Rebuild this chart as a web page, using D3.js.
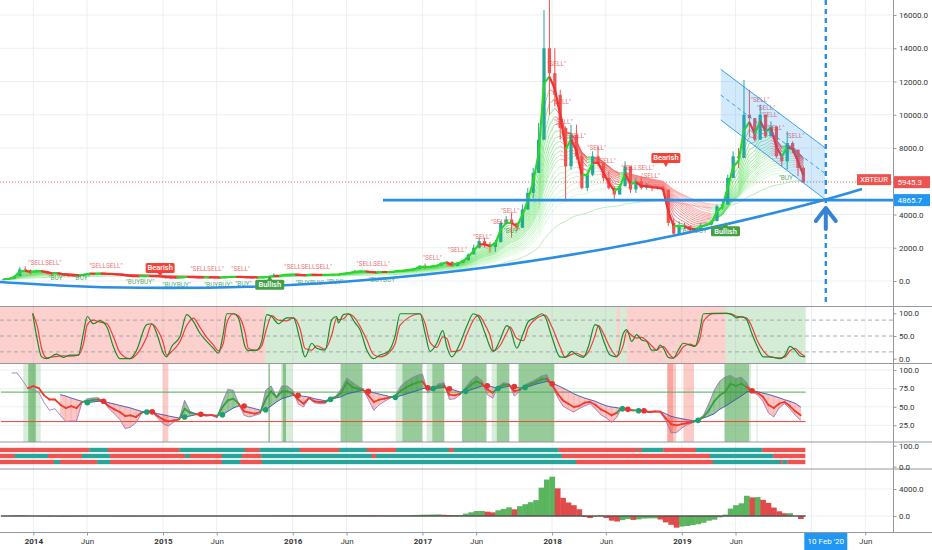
<!DOCTYPE html>
<html><head><meta charset="utf-8">
<script src="https://cdn.jsdelivr.net/npm/d3@7/dist/d3.min.js"></script>
<style>
html,body{margin:0;padding:0;background:#fff;overflow:hidden}
svg{display:block;font-family:Roboto,"Liberation Sans",Arial,sans-serif}
</style></head><body>
<svg id="chart" width="932" height="550"></svg>
<script>
// ================= DATA =================
// semi-monthly bars starting Oct 1 2013 (decimal years)
const START_T = 2013.75, STEP_T = 1/24;
const closes = [105,150,300,700,650,520,
 620,600,500,420,470,360,330,330,330,420,480,440,460,430,430,370,360,300,280,280,300,300,290,260,
 220,200,200,225,250,225,215,210,215,210,205,230,265,260,250,205,210,210,225,270,340,310,390,390,
 400,350,355,395,370,370,375,400,405,470,520,580,590,590,520,515,550,540,565,630,640,690,730,920,
 850,870,930,1100,1150,900,1100,1250,1600,2000,2400,2200,2050,2350,3500,3700,3500,3200,4300,5300,6500,8500,14000,12500,
 11200,9200,6900,8800,7500,5600,6400,7500,7100,6200,5600,5200,5700,6900,5500,6000,5600,5700,5600,5600,5500,3500,2850,3300,
 3300,3050,3100,3350,3400,3600,4500,4600,6200,7500,7400,10000,9800,8500,10000,8700,9300,7500,7200,8300,7900,6800,5945.3];
const highs = [110,160,320,850,880,700,
 680,650,610,500,500,480,370,370,340,440,500,490,470,470,440,440,380,360,320,300,350,320,300,300,
 270,230,210,240,270,260,240,220,220,220,215,240,280,280,265,255,215,215,230,300,460,340,420,420,
 420,400,360,400,390,380,380,410,410,480,540,680,620,610,560,530,560,560,575,650,680,700,740,930,
 1060,900,950,1120,1200,1180,1120,1280,1650,2200,2600,2600,2350,2450,3600,3900,4100,3400,4600,5600,6800,9500,16300,16900,
 14000,11500,9300,9400,9400,7700,6600,7800,8100,7100,6600,5700,5800,7200,6900,6200,6300,5900,5700,5700,5700,5500,3800,3600,
 3500,3300,3200,3500,3500,3650,4600,4900,6400,7800,8000,12100,11500,9800,10600,9800,9600,9200,7500,9000,8400,7800,6900];
const lows = [90,100,150,290,520,380,
 520,560,420,320,400,340,260,300,310,320,410,420,430,420,380,340,340,280,260,260,260,280,250,250,
 150,160,190,190,240,220,200,200,205,205,195,200,230,250,200,180,200,200,210,225,270,280,330,360,
 360,340,330,350,360,360,365,370,390,400,460,500,570,570,480,500,510,520,540,560,620,640,690,720,
 720,800,880,930,1050,850,950,1100,1250,1600,1950,2000,1700,1750,2300,3400,2600,3000,3200,4300,5000,6500,8500,10000,
 10500,8500,4800,6700,7300,5500,5400,6300,6900,6000,5500,4900,5200,5700,5300,5300,5500,5500,5400,5500,5400,3300,2700,2800,
 3100,2950,2950,3100,3300,3350,3600,4300,4700,6200,6800,7400,8700,8400,8500,8600,8700,7400,6900,6700,7700,6300,5900];
const firstOpen = 100;

// EMA ribbon periods (in bars)
const ribbonPeriods = [2,3,4,5,6,7,8,9,10,11,12,13,14,16,18,20,22,25,28,32];
const longPeriod = 50;

// momentum histogram (same bar grid)
const histValues = [0,20,60,120,80,30,
 10,-20,-40,-60,-50,-70,-80,-70,-60,-40,-20,-10,0,-10,-20,-30,-40,-50,-55,-50,-40,-35,-30,-30,
 -35,-30,-25,-20,-15,-15,-12,-10,-10,-8,-5,0,5,8,6,2,0,-2,0,10,30,40,50,55,
 55,50,40,35,30,28,25,28,35,50,70,90,100,95,80,70,65,60,62,70,80,95,120,160,
 190,200,220,240,180,150,130,
 150,350,550,740,750,640,540,850,1050,1280,990,1450,1750,2050,2350,4200,5400,5830,4100,2700,2000,1600,1000,
 -150,-300,-50,100,-300,-690,-820,-620,-450,-580,-500,-380,-350,-340,-520,-950,-1300,-1730,-1560,-1480,-1350,-1220,-1000,-700,-550,-200,
 200,1100,1600,1880,3000,2750,2800,2400,1950,1250,700,400,420,0,-450];

// RSI panel (same grid): fast (purple), slow trail (blue), mid (thick)
const rsiFast = [null,null,96,96,86,75,73,70,55.6,45.3,47.5,38.5,30.3,30.8,30.8,55.6,61.1,62,62.4,57,47.5,40.7,33,20.4,22.6,28.5,40.7,45.3,43,34.9,27.2,24,29.4,33,58.8,43.9,40.7,38.5,37.6,38.5,34.9,56.6,73.7,72.4,54.3,38.5,36.2,38.5,40.7,72.4,78.3,63.3,78.3,78.3,72.4,54.3,49.8,61.9,55.6,54.3,54.3,61.9,64.7,74.6,89.1,83.6,78.3,74.6,60.1,45.3,52.9,57.5,61.9,65.6,78.3,84.6,89.1,92.7,94.5,69.2,75.5,81.4,82.7,60.1,61.1,66.5,76.9,85.9,91.8,85.9,66.5,61.9,77.5,82.7,81.4,64.7,71,80.1,83.6,87.3,91.8,93.6,78.3,63.3,51.1,46.6,43,47.5,51.1,54.3,47.5,39.3,35,29.4,36.2,51.1,45.3,45,45.5,44.5,42.1,43.5,43,31.7,15,15,21.3,25.8,28.5,33,38.5,54.3,72.4,84.6,90.4,92.7,88.2,90.4,82.7,70,66.5,57.5,42.1,36.2,48.4,54.3,47.5,38.5,31.7];
const rsiSlow = [null,null,null,null,null,null,null,null,null,null,null,66.5,64.7,62,59.7,57.5,55.6,56.6,57.5,57.5,55.6,53.8,52,50.2,48.4,46.1,43.9,43,43.2,40.7,39.3,37.6,36.2,34.9,36.2,37.6,39.3,39.8,39.3,38.9,38.5,39.3,43.9,48.4,51.1,51.1,49.3,47.5,45.3,46.1,51.1,56.6,61.1,63.3,65.6,65.6,64.3,63.3,61.1,59.7,58.3,60.1,62,63.8,67.4,69.2,71,72.4,71,69.2,67.4,65.6,63.8,62.9,65.1,67.4,69.7,71.9,74.6,76,75,75.5,76.4,74.6,72.4,70.1,71,73.3,75.5,78.3,78.7,77,75,76.4,78.3,77.7,75.5,76.4,78.3,80.8,82.7,84.6,81.4,79.2,75.5,71.9,67.8,64.7,62,59.7,57.5,54.3,51.5,49.8,48.8,47.5,46.6,45.3,44.8,44.8,43.9,43.9,43.9,40.7,37.1,35.3,33.9,32.6,31.2,31.7,34.9,37.5,40.7,46.6,50.7,55.3,60.1,64.7,70.1,71.9,70.5,68.7,66.9,64.7,62.4,59.7,57.5,54.7,49.7];
const rsiMid = [null,null,null,null,null,75.5,78,75.5,65.6,60,60,53,48.4,51,48.4,56.6,58,59.3,59.8,57.3,50.7,46.6,43,37.6,38.5,36.2,42.1,43.9,43,37.6,33,30.3,31.7,33,47.5,42.1,40.3,39.3,38.5,38.7,37,49.8,58.8,61.1,54.3,43.9,42.1,40.7,43,60.2,71.1,63.3,71.1,71.1,67.9,60.2,54.3,62,57.5,56.6,56.6,61,63.3,69.2,83.6,76.9,74.6,73.5,65.6,56.6,59.7,61.1,62.9,64.7,72,76.4,80.1,82.8,84.6,73.7,74.6,78.3,79.2,66.5,65.6,67.9,73.7,80.1,84.6,81.4,73.7,69.2,76,80.1,80.1,71,73.2,78.3,81,83.6,87.3,88.2,80.1,67.9,58.8,54.3,49.8,51.1,55.6,56.6,52.9,46.6,43,38.5,42.1,49.8,45.5,45.1,45.2,44.6,43,43.7,43.5,34.9,26.7,24.9,26.7,28,29.4,31.7,36.2,45.3,57.5,65.6,70.1,81.4,78.3,81.4,76.9,71,69.2,63.8,52.9,48.4,54.3,56.6,51.1,43.9,38.5];
const rsiUpper = 70, rsiLower = 30;
const dataEndT = 2019.955;

// RSI panel background bands [t0, t1, kind]
const rsiBands = [[2013.923,2014.057,'lg'],[2013.961,2014.019,'dg'],[2014.998,2015.041,'pk'],
 [2015.812,2015.825,'dg'],[2015.91,2016.0,'lg'],[2015.923,2015.948,'dg'],[2016.369,2016.538,'dg'],
 [2016.794,2016.845,'lg'],[2016.845,2016.999,'dg'],[2017.033,2017.076,'lg'],[2017.076,2017.169,'dg'],
 [2017.305,2017.494,'dg'],[2017.534,2017.573,'lg'],[2017.573,2017.67,'dg'],[2017.741,2018.017,'dg'],
 [2018.888,2018.955,'pk'],[2018.888,2018.932,'pk'],[2019.012,2019.094,'pk'],
 [2019.329,2019.518,'dg'],[2019.518,2019.533,'lg'],[2019.576,2019.584,'lg']];

// Stochastic %K readings [decimal year, value]
const stochT = [2013.995,2014.031,2014.064,2014.103,2014.18,2014.231,2014.283,2014.347,2014.386,2014.416,2014.463,2014.514,2014.566,2014.617,2014.668,2014.746,2014.797,2014.874,2014.913,2014.951,2015.003,2015.028,2015.067,2015.131,2015.183,2015.234,2015.285,2015.337,2015.388,2015.427,2015.465,2015.491,2015.542,2015.581,2015.632,2015.658,2015.722,2015.761,2015.8,2015.838,2015.889,2015.954,2016.005,2016.057,2016.095,2016.147,2016.185,2016.249,2016.301,2016.339,2016.352,2016.391,2016.429,2016.481,2016.519,2016.571,2016.622,2016.674,2016.738,2016.789,2016.828,2016.982,2017.021,2017.059,2017.111,2017.157,2017.188,2017.226,2017.29,2017.341,2017.393,2017.431,2017.483,2017.534,2017.547,2017.598,2017.65,2017.675,2017.727,2017.778,2017.817,2017.868,2017.92,2017.945,2017.997,2018.061,2018.1,2018.151,2018.19,2018.241,2018.28,2018.331,2018.357,2018.395,2018.447,2018.498,2018.549,2018.575,2018.614,2018.652,2018.691,2018.729,2018.768,2018.806,2018.832,2018.858,2018.896,2018.935,2018.973,2019.012,2019.063,2019.102,2019.14,2019.166,2019.243,2019.346,2019.385,2019.423,2019.462,2019.5,2019.539,2019.577,2019.629,2019.68,2019.757,2019.796,2019.834,2019.873,2019.911,2019.95];
const stochK = [100,41,4,0,10,3,8,8,56,93,77,84,71,27,0,0,19,75,77,56,12,4,27,49,97,82,56,38,23,12,56,99,99,90,27,18,19,38,97,93,77,90,90,41,4,34,23,19,86,93,79,97,99,79,64,19,0,8,16,49,99,99,56,16,34,62,27,4,34,71,99,93,56,19,16,41,73,67,23,56,82,90,99,93,49,4,3,16,8,3,27,75,71,41,8,4,56,64,38,53,41,38,19,19,30,23,3,1,19,34,30,27,64,99,100,100,97,90,93,86,56,30,4,4,0,8,27,19,6,4];
const stochLevels = [85,50,15];
// stoch background regime [t0,t1,state]
const stochBg = [[2013.743,2015.788,'bear'],[2015.788,2018.498,'bull'],[2018.498,2018.524,'bear'],[2018.524,2018.575,'bull'],[2018.575,2019.338,'bear'],[2019.338,2019.955,'bull']];

// trend rows (boundaries + states R=bear,T=bull)
const row1Breaks = [2013.743,2014.432,2014.574,2015.126,2015.632,2015.742,2016.054,2016.357,2016.571,2016.796,2017.205,2017.241,2018.048,2018.645,2018.655,2018.691,2018.857,2019.107,2019.621,2019.95];
const row1States = "RTRTRTRTRTRTRTRTRTR";
const row2Breaks = [2013.743,2013.857,2014.113,2014.375,2014.592,2015.17,2015.206,2015.455,2015.609,2015.758,2016.611,2016.642,2018.074,2019.217,2019.705,2019.95];
const row2States = "RTRTRTRTRTRTRTR";
const row3Breaks = [2013.743,2014.16,2014.206,2014.493,2014.591,2015.453,2015.594,2015.761,2018.184,2019.238,2019.757,2019.775,2019.813,2019.95];
const row3States = "RTRTRTRTRTRTR";

// drawing annotations
const supportCurveT = [2013.743,2014.244,2014.83,2015.659,2016.419,2016.989,2017.656,2018.416,2019.017,2019.684,2020.173,2020.389];
const supportCurveP = [-60,-283,-409,-343,-30,361,992,1937,2851,4048,5040,5534];
const supportLevel = 4865.7, supportStartT = 2016.696;
const channelT = [2019.30, 2020.104];
const channelTopP = [12734, 8018], channelMidP = [11188, 6466], channelBotP = [9684, 4914];
const crosshairT = 2020.11, crosshairLabel = "10 Feb '20";
const arrowFromP = 3128, arrowToP = 4391, arrowHeadP = 3609, arrowHalfT = 0.077;
const symbol = "XBTEUR";

const sellT = [2014.09,2014.56,2015.34,2015.599,2016.12,2016.62,2017.077,2017.27,2017.462,2017.60,2017.676,2018.035,2018.074,2018.086,2018.19,2018.344,2018.42,2018.66,2018.76,2019.603,2019.649,2019.68,2019.719,2019.873];
const sellP = [1080,900,722,722,824,990,1383,1865,2646,3549,4192,13053,10725,9522,8722,7982,7176,6800,6300,10887,10388,9985,9185,8680];
const sellText = ['"SELLSELL"','"SELLSELL"','"SELLSELL"','"SELL"','"SELLSELLSELL"','"SELLSELL"','"SELL"','"SELL"','"SELL"','"SELL"','"SELL"','"SELL"','"SELL"','"SELL"','"SELL"','"SELL"','"SELL"','"SELLSELL"','"SELL"','"SELL"','"SELL"','"SELL"','"SELL"','"SELL"'];
const buyT = [2014.18,2014.373,2014.823,2015.106,2015.426,2015.62,2016.133,2016.326,2016.696,2017.69,2019.1,2019.81];
const buyP = [162,180,-102,-240,-240,-210,-120,-60,30,3000,2965,6196];
const buyText = ['"BUY"','"BUY"','"BUYBUY"','"BUYBUY"','"BUYBUY"','"BUY"','"BUYBUY"','"BUY"','"BUYBUY"','"BUY"','"BUYBUY"','"BUY"'];
const tagT = [2014.978, 2018.877, 2015.823, 2019.337];
const tagP = [782, 7400, -220, 2990];
const tagText = ["Bearish","Bearish","Bullish","Bullish"];

const mainTicks = [0,2000,4000,6000,8000,10000,12000,14000,16000];
const stochTicks = [0,50,100];
const rsiTicks = [25,50,75,100];
const barsTicks = [0,100];
const histTicks = [0,4000];
const xTickT = [2014,2014.414,2015,2015.414,2016,2016.415,2017,2017.414,2018,2018.414,2019,2019.414,2020,2020.414];
const xTickLabels = ["2014","Jun","2015","Jun","2016","Jun","2017","Jun","2018","Jun","2019","Jun","","Jun"];

// ================= CHART =================
const UP = '#26a69a', DN = '#ef5350', BLUE = '#2196f3';
const svg = d3.select('#chart');
const PLOT_R = 893;
const x = d3.scaleLinear().domain([2014, 2020.11]).range([33.3, 825.8]);
const panels = {main:[0,306], stoch:[306.5,363.5], rsi:[363.5,442], bars:[442,469], hist:[469,532]};
const yMain = d3.scaleLinear().domain([0,16000]).range([281,15]);
const yStoch = d3.scaleLinear().domain([0,100]).range([358.7,313.3]);
const yRsi = d3.scaleLinear().domain([0,100]).range([443.7,370]);
const yBars = d3.scaleLinear().domain([0,100]).range([466.7,445.7]);
const yHist = d3.scaleLinear().domain([0,4000]).range([516,489]);

const defs = svg.append('defs');
const G = {};
Object.entries(panels).forEach(([k,[a,b]])=>{
  defs.append('clipPath').attr('id','clip-'+k).append('rect').attr('x',0).attr('y',a).attr('width',PLOT_R).attr('height',b-a);
  G[k] = svg.append('g').attr('clip-path',`url(#clip-${k})`);
});
const tS = i => START_T + i*STEP_T;
const tM = i => START_T + (i+0.5)*STEP_T;
const N = closes.length;

// grid
const GRID = '#eceff3';
Object.entries(panels).forEach(([k,[a,b]])=>{
  G[k].selectAll('.vg').data(xTickT).join('line').attr('x1',d=>x(d)).attr('x2',d=>x(d)).attr('y1',a).attr('y2',b).attr('stroke',GRID);
});
G.main.selectAll('.hg').data(mainTicks).join('line').attr('x1',0).attr('x2',PLOT_R).attr('y1',d=>yMain(d)).attr('y2',d=>yMain(d)).attr('stroke',GRID);
G.rsi.selectAll('.hg').data(rsiTicks).join('line').attr('x1',0).attr('x2',PLOT_R).attr('y1',d=>yRsi(d)).attr('y2',d=>yRsi(d)).attr('stroke',GRID);
G.hist.selectAll('.hg').data(histTicks).join('line').attr('x1',0).attr('x2',PLOT_R).attr('y1',d=>yHist(d)).attr('y2',d=>yHist(d)).attr('stroke',GRID);

// ---------- MAIN ----------
const lastPrice = closes[N-1];
G.main.append('line').attr('x1',0).attr('x2',PLOT_R).attr('y1',yMain(lastPrice)).attr('y2',yMain(lastPrice))
  .attr('stroke',DN).attr('stroke-width',0.8).attr('stroke-dasharray','1,2');

function ema(src,p){const a=2/(p+1);let e=src[0];return src.map((v,i)=>(e = i? a*v+(1-a)*e : v));}
function drawTrend(g, vals, cUp, cDn, w, op){
  const segs=[]; let cur=null, run=[];
  for(let i=1;i<vals.length;i++){
    const c = vals[i]>=vals[i-1]?cUp:cDn;
    if(c===cur){run.push(i);} else { if(cur) segs.push([cur,run]); cur=c; run=[i-1,i]; }
  }
  segs.push([cur,run]);
  const ln = d3.line().x(i=>x(tM(i))).y(i=>yMain(vals[i]));
  g.selectAll(null).data(segs).join('path').attr('d',d=>ln(d[1])).attr('fill','none')
   .attr('stroke',d=>d[0]).attr('stroke-width',w).attr('stroke-linejoin','round').attr('opacity',op||1);
}
const ribG = G.main.append('g');
drawTrend(ribG, ema(closes,longPeriod), '#a8e8a8', '#f6a5a5', 0.8);
const gInt = d3.interpolateRgb('#3ad83a','#c9f6c9'), rInt = d3.interpolateRgb('#f03030','#fcc4c4');
for(let k=ribbonPeriods.length-1;k>=1;k--){
  const f = k/(ribbonPeriods.length-1);
  drawTrend(ribG, ema(closes,ribbonPeriods[k]), gInt(f), rInt(f), 0.7, 0.9);
}
// candles
const opens = closes.map((c,i)=> i===0 ? firstOpen : closes[i-1]);
const bw = (x(STEP_T)-x(0))*0.6;
const cg = G.main.append('g');
cg.selectAll('line').data(d3.range(N)).join('line')
  .attr('x1',i=>x(tM(i))).attr('x2',i=>x(tM(i)))
  .attr('y1',i=>yMain(Math.max(highs[i],opens[i],closes[i]))).attr('y2',i=>yMain(Math.min(lows[i],opens[i],closes[i])))
  .attr('stroke',i=>closes[i]>=opens[i]?UP:DN).attr('stroke-width',1);
cg.selectAll('rect').data(d3.range(N)).join('rect')
  .attr('x',i=>x(tM(i))-bw/2).attr('width',bw)
  .attr('y',i=>yMain(Math.max(opens[i],closes[i])))
  .attr('height',i=>Math.max(1,Math.abs(yMain(opens[i])-yMain(closes[i]))))
  .attr('fill',i=>closes[i]>=opens[i]?UP:DN);
drawTrend(G.main.append('g'), ema(closes,ribbonPeriods[0]), '#2bd62b', '#f23030', 2.2);

// labels SELL/BUY
G.main.append('g').selectAll('text').data(sellT).join('text')
  .attr('x',d=>x(d)).attr('y',(d,i)=>yMain(sellP[i])).attr('text-anchor','middle').attr('dominant-baseline','middle')
  .attr('font-size',6.5).attr('fill','rgba(229,57,53,0.72)').text((d,i)=>sellText[i]);
G.main.append('g').selectAll('text').data(buyT).join('text')
  .attr('x',d=>x(d)).attr('y',(d,i)=>yMain(buyP[i])).attr('text-anchor','middle').attr('dominant-baseline','middle')
  .attr('font-size',6.5).attr('fill','rgba(46,150,60,0.8)').text((d,i)=>buyText[i]);

// channel
const chPoly = [[x(channelT[0]),yMain(channelTopP[0])],[x(channelT[1]),yMain(channelTopP[1])],[x(channelT[1]),yMain(channelBotP[1])],[x(channelT[0]),yMain(channelBotP[0])]];
G.main.append('path').attr('d','M'+chPoly.join('L')+'Z').attr('fill','rgba(33,150,243,0.2)');
[[channelTopP,null],[channelBotP,null],[channelMidP,'4,3']].forEach(([p,da])=>{
  G.main.append('line').attr('x1',x(channelT[0])).attr('x2',x(channelT[1])).attr('y1',yMain(p[0])).attr('y2',yMain(p[1]))
   .attr('stroke',BLUE).attr('stroke-width',0.9).attr('stroke-dasharray',da);
});
// support curve + level
G.main.append('path').attr('d', d3.line().curve(d3.curveNatural).x(d=>x(d)).y((d,i)=>yMain(supportCurveP[i]))(supportCurveT))
  .attr('fill','none').attr('stroke','#2a8ee6').attr('stroke-width',2.6);
G.main.append('line').attr('x1',x(supportStartT)).attr('x2',PLOT_R).attr('y1',yMain(supportLevel)).attr('y2',yMain(supportLevel))
  .attr('stroke','#2a8ee6').attr('stroke-width',2.8);
// crosshair dotted vertical
G.main.append('line').attr('x1',x(crosshairT)).attr('x2',x(crosshairT)).attr('y1',panels.main[0]).attr('y2',panels.main[1])
  .attr('stroke','#2a8ee6').attr('stroke-width',2.4).attr('stroke-dasharray','5,4');
// arrow
const ax = x(crosshairT);
G.main.append('path').attr('d',`M${ax},${yMain(arrowFromP)}L${ax},${yMain(arrowToP)}M${x(crosshairT-arrowHalfT)},${yMain(arrowHeadP)}L${ax},${yMain(arrowToP)}L${x(crosshairT+arrowHalfT)},${yMain(arrowHeadP)}`)
  .attr('fill','none').attr('stroke','#3583d6').attr('stroke-width',4).attr('stroke-linecap','round').attr('stroke-linejoin','round');

// tags
tagT.forEach((t,i)=>{
  const bear = tagText[i]==='Bearish';
  const cx = x(t), cy = yMain(tagP[i]);
  const col = bear ? '#f44336' : '#43a047';
  const g = G.main.append('g');
  g.append('path').attr('d', bear ? `M${cx-3},${cy+4}L${cx},${cy+9}L${cx+3},${cy+4}Z` : `M${cx-3},${cy-4}L${cx},${cy-9}L${cx+3},${cy-4}Z`).attr('fill',col);
  g.append('rect').attr('x',cx-14.5).attr('y',cy-5).attr('width',29).attr('height',10).attr('rx',1.5).attr('fill',col);
  g.append('text').attr('x',cx).attr('y',cy+0.5).attr('text-anchor','middle').attr('dominant-baseline','middle')
   .attr('font-size',7.5).attr('font-weight',500).attr('fill','#fff').text(tagText[i]);
});

// ---------- STOCH ----------
stochBg.forEach(([a,b,s])=>{
  G.stoch.append('rect').attr('x',x(a)).attr('width',x(b)-x(a)).attr('y',panels.stoch[0]).attr('height',panels.stoch[1]-panels.stoch[0])
   .attr('fill', s==='bear' ? 'rgba(244,67,54,0.25)' : 'rgba(76,175,80,0.24)');
});
G.stoch.selectAll('.lvl').data(stochLevels).join('line').attr('x1',0).attr('x2',PLOT_R).attr('y1',d=>yStoch(d)).attr('y2',d=>yStoch(d))
  .attr('stroke','#9598a1').attr('stroke-width',0.8).attr('stroke-dasharray','4,3');
const stochD = stochK.map((k,i)=> i===0 ? k : (stochK[i-1]+k)/2);
const sl = vals => d3.line().curve(d3.curveMonotoneX).x((d,i)=>x(stochT[i])).y(d=>yStoch(d))(vals);
G.stoch.append('path').attr('d',sl(stochD)).attr('fill','none').attr('stroke','#f23c3c').attr('stroke-width',1.2);
G.stoch.append('path').attr('d',sl(stochK)).attr('fill','none').attr('stroke','#1b8a2a').attr('stroke-width',1.2);

// ---------- RSI ----------
const bandCol = {lg:'rgba(76,175,80,0.22)', dg:'rgba(67,160,71,0.55)', pk:'rgba(244,67,54,0.28)'};
rsiBands.forEach(([a,b,k])=>{
  G.rsi.append('rect').attr('x',x(a)).attr('width',Math.max(1,x(b)-x(a))).attr('y',panels.rsi[0]).attr('height',panels.rsi[1]-panels.rsi[0]).attr('fill',bandCol[k]);
});
[[rsiUpper,'#4caf50'],[rsiLower,'#f44336']].forEach(([v,c])=>{
  G.rsi.append('line').attr('x1',x(START_T)).attr('x2',x(dataEndT)).attr('y1',yRsi(v)).attr('y2',yRsi(v)).attr('stroke',c).attr('stroke-width',1);
});
const fillG = G.rsi.append('g');
const FG = 'rgba(56,150,60,0.5)', FR = 'rgba(244,67,54,0.3)';
for(let b=1;b<N;b++){
  const a=b-1;
  if(rsiFast[a]==null||rsiSlow[a]==null||rsiFast[b]==null||rsiSlow[b]==null) continue;
  const xa=x(tS(a)), xb=x(tS(b));
  const dA=rsiFast[a]-rsiSlow[a], dB=rsiFast[b]-rsiSlow[b];
  const poly=(pts,c)=>fillG.append('path').attr('d','M'+pts.join('L')+'Z').attr('fill',c).attr('stroke',c).attr('stroke-width',0.3);
  if(dA*dB>=0){
    poly([[xa,yRsi(rsiFast[a])],[xb,yRsi(rsiFast[b])],[xb,yRsi(rsiSlow[b])],[xa,yRsi(rsiSlow[a])]], (dA+dB)>=0?FG:FR);
  } else {
    const f=dA/(dA-dB), xm=xa+f*(xb-xa), vm=rsiFast[a]+f*(rsiFast[b]-rsiFast[a]);
    poly([[xa,yRsi(rsiFast[a])],[xm,yRsi(vm)],[xa,yRsi(rsiSlow[a])]], dA>=0?FG:FR);
    poly([[xm,yRsi(vm)],[xb,yRsi(rsiFast[b])],[xb,yRsi(rsiSlow[b])]], dB>=0?FG:FR);
  }
}
const rl = vals => d3.line().defined(d=>d!=null).x((d,i)=>x(tS(i))).y(d=>yRsi(d))(vals);
G.rsi.append('path').attr('d',rl(rsiFast)).attr('fill','none').attr('stroke','#a27ac6').attr('stroke-width',0.9);
G.rsi.append('path').attr('d',rl(rsiSlow)).attr('fill','none').attr('stroke','#3f51c5').attr('stroke-width',0.9);
const midG = G.rsi.append('g');
for(let b=1;b<N;b++){
  const a=b-1;
  if(rsiMid[a]==null||rsiMid[b]==null) continue;
  const bull = rsiSlow[b]!=null && rsiFast[b]>=rsiSlow[b];
  midG.append('line').attr('x1',x(tS(a))).attr('x2',x(tS(b))).attr('y1',yRsi(rsiMid[a])).attr('y2',yRsi(rsiMid[b]))
   .attr('stroke',bull?'#3a9e3e':'#f03a2e').attr('stroke-width',1.8).attr('stroke-linecap','round');
}
for(let b=1;b<N;b++){
  const a=b-1;
  if(rsiSlow[a]==null||rsiSlow[b]==null) continue;
  const sa=rsiFast[a]>=rsiSlow[a], sb=rsiFast[b]>=rsiSlow[b];
  if(sa!==sb) G.rsi.append('circle').attr('cx',x(tS(b))).attr('cy',yRsi(rsiSlow[b])).attr('r',2.8).attr('fill',sb?'#1e9e72':'#e3342f');
}

// ---------- TREND ROWS ----------
const rowBand = d3.scaleBand().domain([0,1,2]).range([yBars(90),yBars(12)]).paddingInner(0.28);
[[row1Breaks,row1States],[row2Breaks,row2States],[row3Breaks,row3States]].forEach(([br,st],r)=>{
  G.bars.selectAll(null).data(st.split('')).join('rect')
   .attr('x',(s,i)=>x(br[i])).attr('width',(s,i)=>x(br[i+1])-x(br[i])+0.3)
   .attr('y',rowBand(r)).attr('height',rowBand.bandwidth())
   .attr('fill',s=>s==='R'?'#ef5350':'#26a69a');
});

// ---------- HISTOGRAM ----------
G.hist.selectAll('rect').data(histValues).join('rect')
  .attr('x',(v,i)=>x(tS(i)-STEP_T/2)).attr('width',x(STEP_T)-x(0)+0.3)
  .attr('y',v=>Math.min(yHist(v),yHist(0))).attr('height',v=>Math.abs(yHist(v)-yHist(0)))
  .attr('fill',(v,i)=> (i>0 && v<histValues[i-1]) ? '#dd3b3b' : '#4caf50').attr('opacity',0.92);
G.hist.append('line').attr('x1',x(START_T)).attr('x2',x(dataEndT)).attr('y1',yHist(0)).attr('y2',yHist(0)).attr('stroke','#555').attr('stroke-width',1.6);

// ---------- FRAMES & AXES ----------
[306.5,363.5,442,469,532.5].forEach(yy=>svg.append('line').attr('x1',0).attr('x2',932).attr('y1',yy).attr('y2',yy).attr('stroke','#9598a1').attr('stroke-width',1));
svg.append('line').attr('x1',PLOT_R+0.5).attr('x2',PLOT_R+0.5).attr('y1',0).attr('y2',532.5).attr('stroke','#9598a1');
function rightAxis(scale,ticks){
  const g = svg.append('g').attr('transform',`translate(${PLOT_R+0.5},0)`)
    .call(d3.axisRight(scale).tickValues(ticks).tickFormat(d=>d.toFixed(1)).tickSize(3).tickPadding(2.5));
  g.select('.domain').remove();
  g.selectAll('text').attr('font-size',8).attr('fill','#333').attr('font-family','Roboto,sans-serif');
  g.selectAll('line').attr('stroke','#9598a1');
  return g;
}
const mainAx = rightAxis(yMain,mainTicks); rightAxis(yStoch,stochTicks); rightAxis(yRsi,rsiTicks); rightAxis(yBars,barsTicks); rightAxis(yHist,histTicks);
// hide tick labels hidden behind the price boxes
mainAx.selectAll('.tick').filter(d=>Math.abs(yMain(d)-yMain(closes[N-1]))<9).select('text').remove();
const xg = svg.append('g').attr('transform','translate(0,532.5)')
  .call(d3.axisBottom(x).tickValues(xTickT).tickFormat((d,i)=>xTickLabels[i]).tickSize(3).tickPadding(3));
xg.select('.domain').remove();
xg.selectAll('line').attr('stroke','#9598a1');
xg.selectAll('text').attr('font-size',8).attr('fill','#333').attr('font-family','Roboto,sans-serif')
  .attr('font-weight',(d,i)=>/^\d+$/.test(xTickLabels[i])?'bold':'normal');

// price boxes
function axisBox(yy,bg,txt){
  svg.append('rect').attr('x',PLOT_R+1).attr('y',yy-6).attr('width',36).attr('height',12).attr('fill',bg);
  svg.append('text').attr('x',PLOT_R+4.5).attr('y',yy+0.5).attr('dominant-baseline','middle').attr('font-size',8).attr('fill','#fff').text(txt);
}
axisBox(yMain(lastPrice), DN, lastPrice.toFixed(1));
axisBox(yMain(supportLevel), BLUE, supportLevel.toFixed(1));
const sy = yMain(lastPrice)-2;
svg.append('rect').attr('x',PLOT_R-36).attr('y',sy-6).attr('width',34).attr('height',11).attr('fill',DN);
svg.append('text').attr('x',PLOT_R-19).attr('y',sy).attr('text-anchor','middle').attr('dominant-baseline','middle').attr('font-size',7.5).attr('fill','#fff').text(symbol);
// crosshair time label
const cxl = x(crosshairT);
svg.append('rect').attr('x',cxl-21.5).attr('y',533).attr('width',43).attr('height',17).attr('fill',BLUE);
svg.append('text').attr('x',cxl).attr('y',542).attr('text-anchor','middle').attr('dominant-baseline','middle').attr('font-size',8).attr('fill','#fff').text(crosshairLabel);
</script>
</body></html>
